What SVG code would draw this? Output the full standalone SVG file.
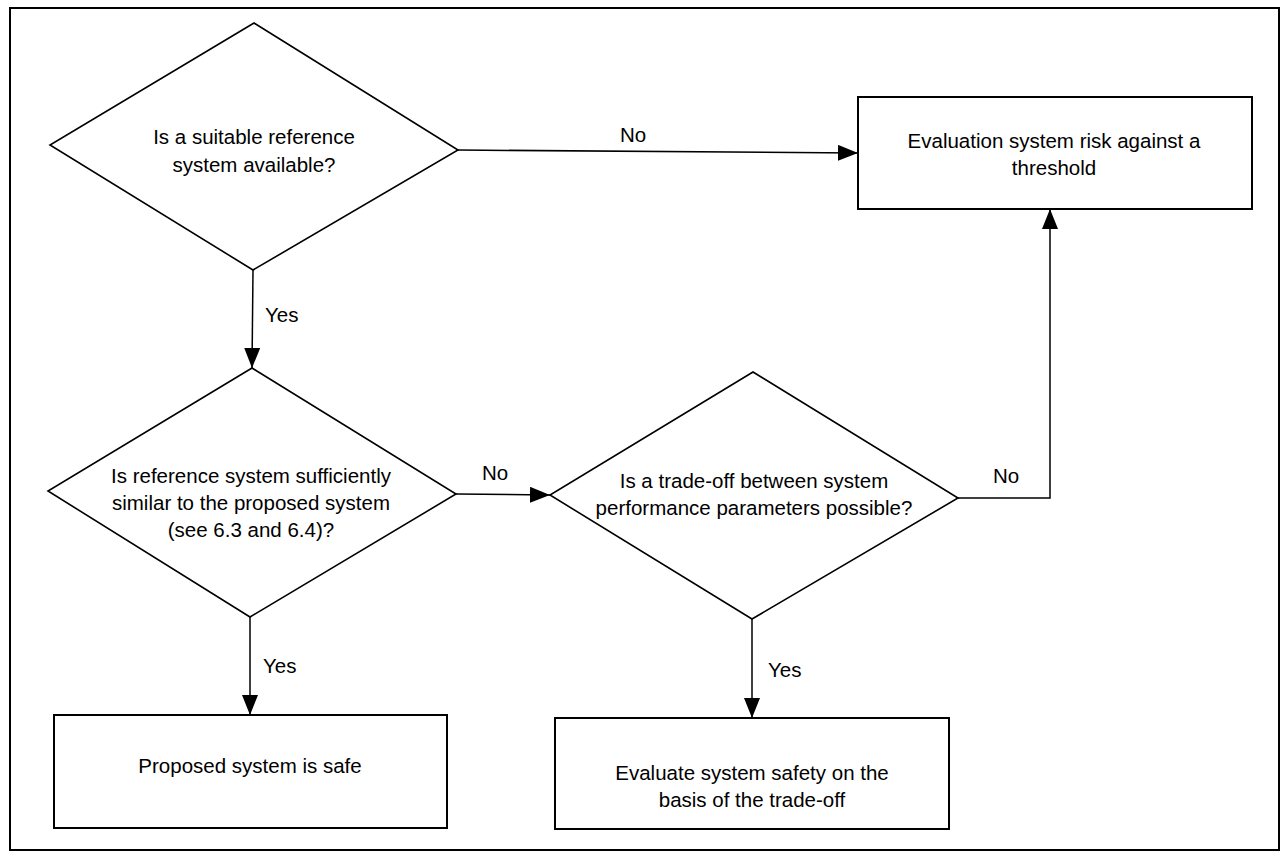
<svg xmlns="http://www.w3.org/2000/svg" width="1284" height="854" viewBox="0 0 1284 854">
<style>
  .shape { fill: #fff; stroke: #000; stroke-width: 1.6; }
  .box { fill: #fff; stroke: #000; stroke-width: 2; }
  .conn { fill: none; stroke: #000; stroke-width: 1.5; }
  text { font-family: "Liberation Sans", Arial, sans-serif; font-size: 20.5px; fill: #000; }
  .c { text-anchor: middle; }
</style>
<defs>
  <marker id="arrow" markerUnits="userSpaceOnUse" markerWidth="20" markerHeight="16" viewBox="0 0 20 16" refX="20" refY="8" orient="auto">
    <path d="M0,0 L20,8 L0,16 Z" fill="#000"/>
  </marker>
</defs>
<rect x="0" y="0" width="1284" height="854" fill="#fff"/>
<rect id="frame" x="10" y="8" width="1269" height="842" fill="none" stroke="#000" stroke-width="2"/>

<g id="connectors">
  <line class="conn" x1="458" y1="150" x2="858" y2="153" marker-end="url(#arrow)"/>
  <line class="conn" x1="253" y1="270" x2="252" y2="368" marker-end="url(#arrow)"/>
  <line class="conn" x1="456" y1="494" x2="550" y2="495" marker-end="url(#arrow)"/>
  <line class="conn" x1="250" y1="617" x2="250" y2="715" marker-end="url(#arrow)"/>
  <line class="conn" x1="752" y1="619" x2="752" y2="718" marker-end="url(#arrow)"/>
  <polyline class="conn" points="958,498 1050,498 1050,209" marker-end="url(#arrow)"/>
  <text x="633" y="142" class="c">No</text>
  <text x="265" y="322">Yes</text>
  <text x="482" y="480">No</text>
  <text x="263" y="673">Yes</text>
  <text x="768" y="677">Yes</text>
  <text x="993" y="483">No</text>
</g>

<g id="d1">
  <polygon class="shape" points="254,23 458,150 253,270 50,145"/>
  <text x="254" y="144" class="c">Is a suitable reference</text>
  <text x="254" y="172" class="c">system available?</text>
</g>

<g id="b1">
  <rect class="box" x="858" y="97" width="394" height="112"/>
  <text x="1054" y="148" class="c">Evaluation system risk against a</text>
  <text x="1054" y="175" class="c">threshold</text>
</g>

<g id="d2">
  <polygon class="shape" points="252,368 456,494 250,617 48,491"/>
  <text x="251" y="483" class="c">Is reference system sufficiently</text>
  <text x="251" y="510" class="c">similar to the proposed system</text>
  <text x="251" y="537" class="c">(see 6.3 and 6.4)?</text>
</g>

<g id="d3">
  <polygon class="shape" points="753,372 958,498 752,619 550,495"/>
  <text x="754" y="488" class="c">Is a trade-off between system</text>
  <text x="754" y="515" class="c">performance parameters possible?</text>
</g>

<g id="b2">
  <rect class="box" x="54" y="715" width="393" height="113"/>
  <text x="250" y="773" class="c">Proposed system is safe</text>
</g>

<g id="b3">
  <rect class="box" x="555" y="718" width="394" height="111"/>
  <text x="752" y="780" class="c">Evaluate system safety on the</text>
  <text x="752" y="807" class="c">basis of the trade-off</text>
</g>
</svg>
